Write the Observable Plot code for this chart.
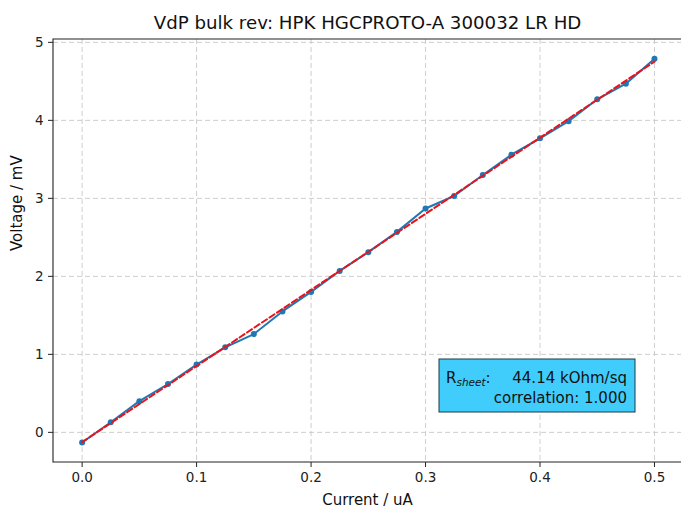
<!DOCTYPE html>
<html><head><meta charset="utf-8">
<script src="https://cdn.jsdelivr.net/npm/d3@7"></script>
<script src="https://cdn.jsdelivr.net/npm/@observablehq/plot@0.6"></script>
<style>body{margin:0;background:#fff;} svg{font-family:"DejaVu Sans",sans-serif;}</style>
</head><body><div id="chart"></div>
<script>
const current = [0.0,0.025,0.05,0.075,0.1,0.125,0.15,0.175,0.2,0.225,0.25,0.275,0.3,0.325,0.35,0.375,0.4,0.425,0.45,0.475,0.5];
const voltage = [-0.13,0.13,0.40,0.62,0.87,1.09,1.26,1.55,1.80,2.07,2.31,2.57,2.87,3.03,3.30,3.56,3.77,3.99,4.27,4.47,4.79];
const xTicks = [0,0.1,0.2,0.3,0.4,0.5];
const yTicks = [0,1,2,3,4,5];
const title = "VdP bulk rev: HPK HGCPROTO-A 300032 LR HD";
const xLabel = "Current / uA";
const yLabel = "Voltage / mV";
const rsheetText = "44.14 kOhm/sq";
const corrText = "correlation: 1.000";

const data = current.map((c, i) => ({current: c, voltage: voltage[i]}));

function frameLines(index, scales, values, dims) {
  const g = d3.create("svg:g");
  const l = dims.marginLeft, t = dims.marginTop, b = dims.height - dims.marginBottom, r = dims.width;
  g.append("path").attr("d", `M${r + 2},${t}H${l}V${b}H${r + 2}`)
    .attr("fill", "none").attr("stroke", "#222").attr("stroke-width", 1.1);
  return g.node();
}

function infoBox(index, scales, values, dims) {
  const g = d3.create("svg:g").attr("text-anchor", "start");
  const right = dims.width - 46, bottom = dims.height - dims.marginBottom - 50;
  const w = 196, h = 53;
  g.append("rect").attr("x", right - w).attr("y", bottom - h).attr("width", w).attr("height", h)
    .attr("fill", "#40cdfc").attr("stroke", "#1a3a48").attr("stroke-width", 1);
  const t1 = g.append("text").attr("x", right - w + 7).attr("y", bottom - 29)
    .attr("text-anchor", "start").attr("font-size", 15).attr("fill", "#111");
  t1.append("tspan").text("R");
  t1.append("tspan").attr("font-size", 10.5).attr("font-style", "italic").attr("dy", 3).text("sheet");
  t1.append("tspan").attr("dy", -3).text(":");
  g.append("text").attr("x", right - 8).attr("y", bottom - 29).attr("text-anchor", "end")
    .attr("font-size", 15).attr("fill", "#111").text(rsheetText);
  g.append("text").attr("x", right - 8).attr("y", bottom - 9).attr("text-anchor", "end")
    .attr("font-size", 15).attr("fill", "#111").text(corrText);
  return g.node();
}

const chart = Plot.plot({
  width: 681,
  height: 509,
  marginLeft: 53,
  marginRight: 0,
  marginTop: 39,
  marginBottom: 47,
  style: {fontFamily: "DejaVu Sans, sans-serif", fontSize: "13px", color: "#222", background: "#fff"},
  x: {domain: [-0.025, 0.525], range: [53, 682.6]},
  y: {domain: [-0.3865, 5.0365]},
  marks: [
    Plot.gridX(xTicks, {stroke: "#c8c8c8", strokeOpacity: 1, strokeDasharray: "5,3", strokeWidth: 0.9}),
    Plot.gridY(yTicks, {stroke: "#c8c8c8", strokeOpacity: 1, strokeDasharray: "5,3", strokeWidth: 0.9}),
    Plot.axisX(xTicks, {tickFormat: d3.format(".1f"), tickSize: 5, tickPadding: 5, label: null, fontSize: 13.5}),
    Plot.axisY(yTicks, {tickFormat: d3.format("d"), tickSize: 5, tickPadding: 5, label: null, fontSize: 13.5}),
    Plot.line(data, {x: "current", y: "voltage", stroke: "#1f77b4", strokeWidth: 2}),
    Plot.dot(data, {x: "current", y: "voltage", r: 3, fill: "#1f77b4", stroke: "none"}),
    Plot.linearRegressionY(data, {x: "current", y: "voltage", stroke: "#e8141c", strokeWidth: 2, strokeDasharray: "6,3", ci: 0}),
    frameLines,
    infoBox,
    Plot.text([title], {frameAnchor: "top", dy: -11, lineAnchor: "bottom", fontSize: 18.2, fill: "#111"}),
    Plot.text([xLabel], {frameAnchor: "bottom", dy: 42, lineAnchor: "bottom", fontSize: 15, fill: "#111"}),
    Plot.text([yLabel], {frameAnchor: "left", dx: -36, rotate: -90, fontSize: 15, fill: "#111"})
  ]
});
document.getElementById("chart").append(chart);
</script>
</body></html>
